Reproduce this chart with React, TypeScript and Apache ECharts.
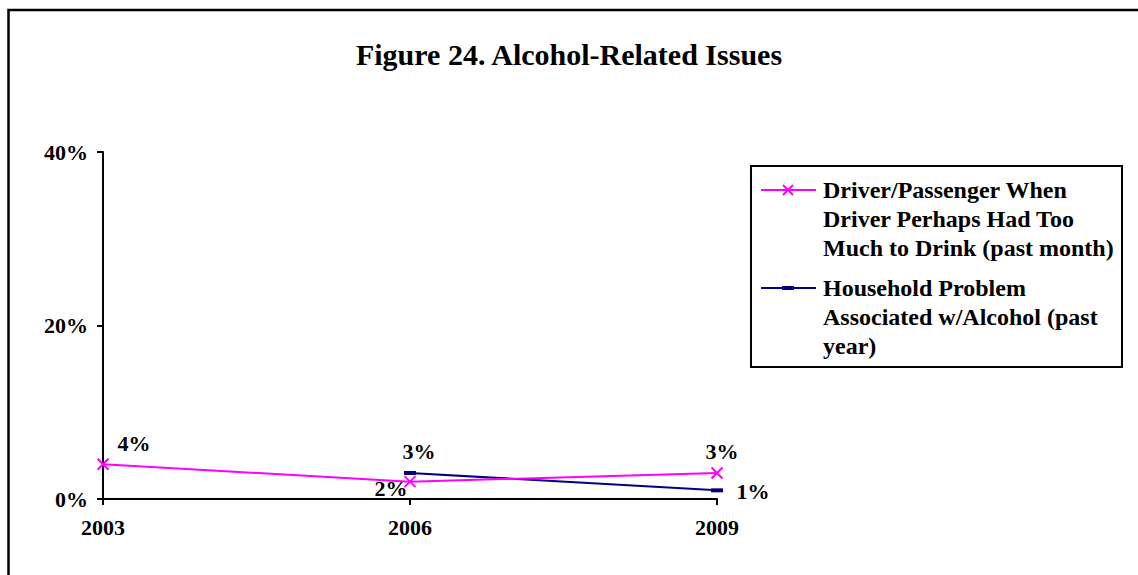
import React, { useEffect, useRef } from "react";
import * as echarts from "echarts";

const categories = ["2003", "2006", "2009"];
const seriesNames = [
  "Driver/Passenger When Driver Perhaps Had Too Much to Drink (past month)",
  "Household Problem Associated w/Alcohol (past year)",
];
const driverValues = [4, 2, 3];
const householdValues = [null, 3, 1];
const yTicks = [0, 20, 40];
const legendLines = [
  "Driver/Passenger When\nDriver Perhaps Had Too\nMuch to Drink (past month)",
  "Household Problem\nAssociated w/Alcohol (past\nyear)",
];
const titleText = "Figure 24. Alcohol-Related Issues";

// styling: label offsets per point (dx, dy in px)
const driverLabelOffsets = [[31, -21], [-19, 7], [5, -21]];
const householdLabelOffsets = [[0, 0], [9, -21], [36, 1]];

const FONT = "'Liberation Serif', 'Times New Roman', serif";
const MAGENTA = "#FF00FF";
const NAVY = "#000080";

export default function App() {
  const ref = useRef<HTMLDivElement>(null);
  useEffect(() => {
    if (!ref.current) return;
    const chart = echarts.init(ref.current, undefined, { renderer: "svg" });
    const labelBase = {
      show: true,
      position: "inside",
      color: "#000",
      fontFamily: FONT,
      fontWeight: "bold",
      fontSize: 22,
      formatter: (p: any) => p.value + "%",
    };
    const mkData = (vals: (number | null)[], offs: number[][]) =>
      vals.map((v, i) => ({
        value: v,
        label: { ...labelBase, offset: offs[i] },
      }));
    chart.setOption({
      animation: false,
      backgroundColor: "#fff",
      title: {
        text: titleText,
        left: "center",
        top: 34,
        textStyle: {
          fontFamily: FONT,
          fontWeight: "bold",
          fontSize: 30,
          color: "#000",
        },
      },
      grid: { left: 103, top: 152, width: 614, height: 347, containLabel: false },
      xAxis: {
        type: "category",
        data: categories,
        boundaryGap: false,
        axisLine: { lineStyle: { color: "#000", width: 2 } },
        axisTick: { show: true, length: 6, lineStyle: { color: "#000", width: 2 } },
        axisLabel: {
          margin: 17,
          color: "#000",
          fontFamily: FONT,
          fontWeight: "bold",
          fontSize: 22,
        },
        splitLine: { show: false },
      },
      yAxis: {
        type: "value",
        min: yTicks[0],
        max: yTicks[yTicks.length - 1],
        interval: yTicks[1] - yTicks[0],
        axisLine: { show: true, lineStyle: { color: "#000", width: 2 } },
        axisTick: { show: true, length: 6, lineStyle: { color: "#000", width: 2 } },
        axisLabel: {
          margin: 15,
          color: "#000",
          fontFamily: FONT,
          fontWeight: "bold",
          fontSize: 22,
          formatter: "{value}%",
        },
        splitLine: { show: false },
      },
      series: [
        {
          name: seriesNames[0],
          type: "line",
          data: mkData(driverValues, driverLabelOffsets),
          symbol: "path://M0,0L10,10M10,0L0,10",
          symbolSize: 11,
          showAllSymbol: true,
          lineStyle: { color: MAGENTA, width: 2 },
          itemStyle: { color: MAGENTA, borderColor: MAGENTA, borderWidth: 2 },
          z: 3,
        },
        {
          name: seriesNames[1],
          type: "line",
          data: mkData(householdValues, householdLabelOffsets),
          symbol: "rect",
          symbolSize: [12, 4],
          showAllSymbol: true,
          lineStyle: { color: NAVY, width: 2 },
          itemStyle: { color: NAVY, borderWidth: 0 },
          z: 2,
        },
      ],
      graphic: [
        {
          type: "rect",
          shape: { x: 8.5, y: 10, width: 1300, height: 800 },
          style: { fill: "none", stroke: "#000", lineWidth: 2.5 },
          silent: true,
          z: 0,
        },
        {
          type: "rect",
          shape: { x: 751, y: 166, width: 371, height: 201 },
          style: { fill: "#fff", stroke: "#000", lineWidth: 2 },
          z: 10,
        },
        {
          type: "line",
          shape: { x1: 761, y1: 190, x2: 816, y2: 190 },
          style: { stroke: MAGENTA, lineWidth: 2 },
          z: 11,
        },
        {
          type: "line",
          shape: { x1: 783, y1: 185, x2: 793, y2: 195 },
          style: { stroke: MAGENTA, lineWidth: 2 },
          z: 11,
        },
        {
          type: "line",
          shape: { x1: 793, y1: 185, x2: 783, y2: 195 },
          style: { stroke: MAGENTA, lineWidth: 2 },
          z: 11,
        },
        {
          type: "text",
          x: 823,
          y: 175.5,
          style: {
            text: legendLines[0],
            fill: "#000",
            font: `bold 24px ${FONT}`,
            lineHeight: 29,
            textVerticalAlign: "top",
            verticalAlign: "top",
          },
          z: 11,
        },
        {
          type: "line",
          shape: { x1: 761, y1: 288, x2: 816, y2: 288 },
          style: { stroke: NAVY, lineWidth: 2 },
          z: 11,
        },
        {
          type: "rect",
          shape: { x: 782, y: 286, width: 12, height: 4 },
          style: { fill: NAVY },
          z: 11,
        },
        {
          type: "text",
          x: 823,
          y: 273.5,
          style: {
            text: legendLines[1],
            fill: "#000",
            font: `bold 24px ${FONT}`,
            lineHeight: 29,
            textVerticalAlign: "top",
            verticalAlign: "top",
          },
          z: 11,
        },
      ],
    });
    return () => chart.dispose();
  }, []);
  return (
    <div
      ref={ref}
      style={{ position: "fixed", left: 0, top: 0, width: 1138, height: 575 }}
    />
  );
}
